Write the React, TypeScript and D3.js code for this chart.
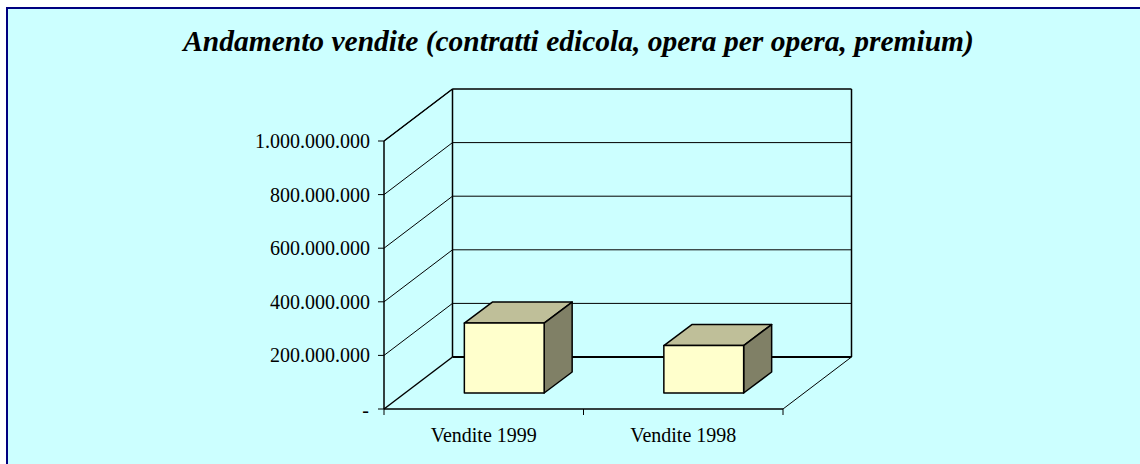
import { useEffect, useRef } from 'react';
import * as d3 from 'd3';

const categories = ['Vendite 1999', 'Vendite 1998'];
const sales = [261000000, 177000000];
const tickValues = [0, 200000000, 400000000, 600000000, 800000000, 1000000000];
const title = 'Andamento vendite (contratti edicola, opera per opera, premium)';

const fmt = (v: number) => (v === 0 ? '-' : d3.format(',')(v).replace(/,/g, '.'));

export default function App() {
  const svgRef = useRef<SVGSVGElement>(null);

  useEffect(() => {
    const svg = d3.select(svgRef.current);
    svg.selectAll('*').remove();

    const font = '"Liberation Serif", "Times New Roman", serif';

    // sfondo e cornice
    svg.append('rect').attr('width', 1140).attr('height', 464).attr('fill', '#ffffff');
    svg.append('rect')
      .attr('x', 7).attr('y', 8).attr('width', 1133).attr('height', 456)
      .attr('fill', '#ccffff');
    svg.append('path')
      .attr('d', 'M7,464V8H1140')
      .attr('fill', 'none').attr('stroke', '#000080').attr('stroke-width', 2);

    svg.append('text')
      .attr('x', 578.5).attr('y', 51)
      .attr('text-anchor', 'middle')
      .attr('font-family', font)
      .attr('font-size', 29.5)
      .attr('font-weight', 'bold')
      .attr('font-style', 'italic')
      .attr('fill', '#000')
      .text(title);

    const x = d3.scaleBand().domain(categories).range([384, 783]);
    const y = d3.scaleLinear().domain([0, 1000000000]).range([409, 141]);

    // profondita' 3D
    const dx = 68.5;
    const dy = -52;
    const line = (x1: number, y1: number, x2: number, y2: number, w = 1) =>
      svg.append('line')
        .attr('x1', x1).attr('y1', y1).attr('x2', x2).attr('y2', y2)
        .attr('stroke', '#000').attr('stroke-width', w);

    const x0 = x.range()[0];
    const x1 = x.range()[1];

    // griglia
    tickValues.forEach(t => {
      const yy = y(t);
      if (t > 0 && t < 1000000000) line(x0 + dx, yy + dy, x1 + dx, yy + dy, 1);
      if (t > 0) line(x0, yy, x0 + dx, yy + dy, 1);
    });

    // pareti
    line(x0 + dx, y(0) + dy, x0 + dx, y(1000000000) + dy, 1.5);
    line(x1 + dx, y(0) + dy, x1 + dx, y(1000000000) + dy, 1.5);
    line(x0 + dx, y(1000000000) + dy, x1 + dx, y(1000000000) + dy, 1.5);
    line(x0 + dx, y(0) + dy, x1 + dx, y(0) + dy, 2);
    line(x0, y(0), x0 + dx, y(0) + dy, 1.5);
    line(x1, y(0), x1 + dx, y(0) + dy, 1);
    line(x0, y(1000000000), x0 + dx, y(1000000000) + dy, 1.5);

    // assi frontali
    line(x0, y(0), x0, y(1000000000), 1.5);
    line(x0, y(0), x1, y(0), 1.5);

    // tacche
    tickValues.forEach(t => {
      line(x0 - 6, y(t), x0, y(t), 1);
      svg.append('text')
        .attr('x', t === 0 ? x0 - 15 : x0 - 14)
        .attr('y', y(t) + (t === 0 ? 8 : 7))
        .attr('text-anchor', 'end')
        .attr('font-family', font)
        .attr('font-size', 20)
        .attr('fill', '#000')
        .text(fmt(t));
    });
    [...categories.map(c => x(c) as number), x1].forEach(p => line(p, y(0), p, y(0) + 6, 1));

    categories.forEach(c => {
      svg.append('text')
        .attr('x', (x(c) as number) + x.bandwidth() / 2)
        .attr('y', 441.5)
        .attr('text-anchor', 'middle')
        .attr('font-family', font)
        .attr('font-size', 20)
        .attr('fill', '#000')
        .text(c);
    });

    // barre
    const barW = x.bandwidth() * 0.4;
    const depthX = 28;
    const depthY = -21;
    const offX = 20.5;
    const offY = -16;

    categories.forEach((c, i) => {
      const left = (x(c) as number) + (x.bandwidth() - barW) / 2 + offX;
      const right = left + barW;
      const bottom = y(0) + offY;
      const top = y(sales[i]) + offY;
      const poly = (pts: number[][], fill: string) =>
        svg.append('polygon')
          .attr('points', pts.map(p => p.join(',')).join(' '))
          .attr('fill', fill)
          .attr('stroke', '#000')
          .attr('stroke-width', 1.5)
          .attr('stroke-linejoin', 'round');
      poly([[left, top], [right, top], [right + depthX, top + depthY], [left + depthX, top + depthY]], '#bfbf99');
      poly([[right, top], [right + depthX, top + depthY], [right + depthX, bottom + depthY], [right, bottom]], '#808066');
      poly([[left, top], [right, top], [right, bottom], [left, bottom]], '#ffffcc');
    });
  }, []);

  return <svg ref={svgRef} width={1140} height={464} style={{ position: 'absolute', left: 0, top: 0, display: 'block' }} />;
}
